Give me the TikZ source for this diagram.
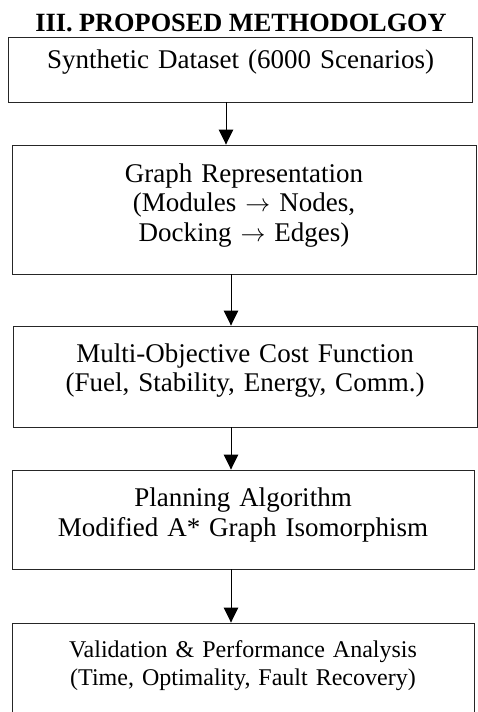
\documentclass[tikz,border=0pt]{standalone}
\usepackage{fontspec}
\setmainfont{Liberation Serif}
\usetikzlibrary{arrows.meta}

\tikzset{
  stagebox/.style={draw=black!85, line width=0.9pt, inner sep=0pt},
  stagetext/.style={anchor=base, text width=450pt, align=center, inner sep=0pt,
    font=\fontsize{27}{29.5}\selectfont},
  flow/.style={line width=0.9pt, -{Triangle[width=14.5pt,length=15pt]}}
}

\begin{document}
\begin{tikzpicture}[x=1pt,y=-1pt]
  \useasboundingbox (0,0) rectangle (477,712);

  \node[anchor=base, inner sep=0pt, font=\bfseries\fontsize{26.3}{28}\selectfont] (title) at (241,31) {III. PROPOSED METHODOLGOY};

  \node[stagebox, minimum width=464.2pt, minimum height=65pt]  (b1) at (240.6,69.5) {};
  \node[stagebox, minimum width=464pt,   minimum height=129pt] (b2) at (244,209.5) {};
  \node[stagebox, minimum width=464pt,   minimum height=101pt] (b3) at (245,376.5) {};
  \node[stagebox, minimum width=462pt,   minimum height=99pt]  (b4) at (243,519.5) {};
  \node[stagebox, minimum width=462pt,   minimum height=107pt] (b5) at (243,676.5) {};

  \node[stagetext] (t1) at ([yshift=-31.5pt]b1.north) {Synthetic Dataset (6000 Scenarios)};
  \node[stagetext] (t2) at ([yshift=-37.5pt]b2.north) {Graph Representation\\(Modules $\rightarrow$ Nodes,\\Docking $\rightarrow$ Edges)};
  \node[stagetext] (t3) at ([yshift=-36.5pt]b3.north) {Multi-Objective Cost Function\\(Fuel, Stability, Energy, Comm.)};
  \node[stagetext, font=\fontsize{27}{30}\selectfont] (t4) at ([yshift=-37pt]b4.north) {Planning Algorithm\\Modified A* Graph Isomorphism};
  \node[stagetext, font=\fontsize{24}{28}\selectfont] (t5) at ([yshift=-35pt]b5.north) {Validation \& Performance Analysis\\(Time, Optimality, Fault Recovery)};

  \draw[flow] ([xshift=-14.6pt]b1.south) -- ([xshift=-14.6pt]b1.south |- b2.north);
  \draw[flow] ([xshift=-13pt]b2.south) -- ([xshift=-13pt]b2.south |- b3.north);
  \draw[flow] ([xshift=-14pt]b3.south) -- ([xshift=-14pt]b3.south |- b4.north);
  \draw[flow] ([xshift=-12pt]b4.south) -- ([xshift=-12pt]b4.south |- b5.north);
\end{tikzpicture}
\end{document}
